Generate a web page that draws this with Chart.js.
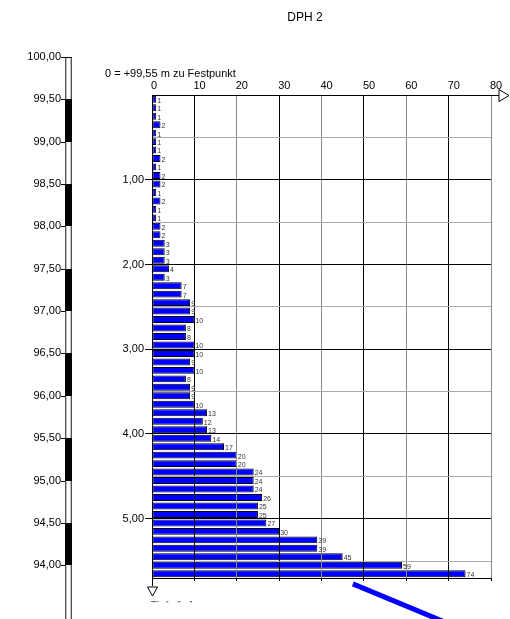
<!DOCTYPE html>
<html>
<head>
<meta charset="utf-8">
<script src="https://cdn.jsdelivr.net/npm/chart.js@4/dist/chart.umd.min.js"></script>
<style>
html, body { margin: 0; padding: 0; background: #fff; }
canvas { display: block; }
</style>
</head>
<body>
<canvas id="c" width="510" height="619"></canvas>
<script>
// Dynamic probe DPH 2: blows per 10 cm against depth below the reference point
const chartTitle = 'DPH 2';
const referenceNote = '0 = +99,55 m zu Festpunkt';
const depthTitle = 'Tiefe [m]';
const groundLevel = 99.55;

// mid-depth of each 10 cm interval [m]
const depths = [
  0.05, 0.15, 0.25, 0.35, 0.45, 0.55, 0.65, 0.75, 0.85, 0.95,
  1.05, 1.15, 1.25, 1.35, 1.45, 1.55, 1.65, 1.75, 1.85, 1.95,
  2.05, 2.15, 2.25, 2.35, 2.45, 2.55, 2.65, 2.75, 2.85, 2.95,
  3.05, 3.15, 3.25, 3.35, 3.45, 3.55, 3.65, 3.75, 3.85, 3.95,
  4.05, 4.15, 4.25, 4.35, 4.45, 4.55, 4.65, 4.75, 4.85, 4.95,
  5.05, 5.15, 5.25, 5.35, 5.45, 5.55, 5.65
];

// blows N10 per interval
const blows = [
  1, 1, 1, 2, 1, 1, 1, 2, 1, 2,
  2, 1, 2, 1, 1, 2, 2, 3, 3, 3,
  4, 3, 7, 7, 9, 9, 10, 8, 8, 10,
  10, 9, 10, 8, 9, 9, 10, 13, 12, 13,
  14, 17, 20, 20, 24, 24, 24, 26, 25, 25,
  27, 30, 39, 39, 45, 59, 74
];

const blowTicks = [0, 10, 20, 30, 40, 50, 60, 70, 80];
const depthTicks = [0.5, 1, 1.5, 2, 2.5, 3, 3.5, 4, 4.5, 5, 5.5];
const elevationTicks = [100.0, 99.5, 99.0, 98.5, 98.0, 97.5, 97.0, 96.5, 96.0, 95.5, 95.0, 94.5, 94.0];

const FONT = '"Liberation Sans", Arial, sans-serif';
const fmt = v => v.toFixed(2).replace('.', ',');

const decor = {
  id: 'decor',
  afterDraw(chart) {
    const ctx = chart.ctx;
    const xs = chart.scales.x;
    const ys = chart.scales.y;
    const area = chart.chartArea;
    ctx.save();

    // value labels next to each bar
    const meta = chart.getDatasetMeta(0);
    ctx.font = '7px ' + FONT;
    ctx.fillStyle = '#333';
    ctx.textAlign = 'left';
    ctx.textBaseline = 'bottom';
    meta.data.forEach((el, i) => {
      ctx.fillText(String(blows[i]), el.x + 1, el.y + el.height / 2 + 1.5);
    });

    // title and reference note
    ctx.fillStyle = '#000';
    ctx.font = '12px ' + FONT;
    ctx.textAlign = 'center';
    ctx.textBaseline = 'middle';
    ctx.fillText(chartTitle, 305, 18);
    ctx.font = '11px ' + FONT;
    ctx.textAlign = 'left';
    ctx.fillText(referenceNote, 105, 74);

    // elevation column on the left, aligned with the depth scale
    const yOf = elev => ys.getPixelForValue(groundLevel - elev);
    const bx0 = 65, bx1 = 72;
    const topElev = elevationTicks[0];
    const yTop = Math.round(yOf(topElev));
    const yBot = chart.height;
    ctx.fillStyle = '#fff';
    ctx.fillRect(bx0, yTop, bx1 - bx0, yBot - yTop);
    ctx.lineWidth = 1;
    ctx.strokeStyle = '#555';
    ctx.beginPath();
    ctx.moveTo(bx0 + 0.5, yTop); ctx.lineTo(bx0 + 0.5, yBot);
    ctx.moveTo(bx1 - 0.5, yTop); ctx.lineTo(bx1 - 0.5, yBot);
    ctx.stroke();
    ctx.strokeStyle = '#bbb';
    ctx.beginPath();
    ctx.moveTo(bx0 + 1.5, yTop); ctx.lineTo(bx0 + 1.5, yBot);
    ctx.moveTo(bx1 - 1.5, yTop); ctx.lineTo(bx1 - 1.5, yBot);
    ctx.stroke();
    // black half-metre blocks: [n, n+0.5] for whole metres n
    ctx.fillStyle = '#000';
    elevationTicks.forEach(e => {
      if (Math.abs(e - Math.round(e)) < 1e-6 && e + 0.5 <= topElev) {
        const a = Math.round(yOf(e + 0.5)), b = Math.round(yOf(e));
        ctx.fillRect(bx0, a, bx1 - bx0, b - a);
      }
    });
    ctx.strokeStyle = '#000';
    ctx.beginPath();
    elevationTicks.forEach((e, i) => {
      const y = Math.round(yOf(e)) + 0.5;
      ctx.moveTo(61, y);
      ctx.lineTo(i === 0 ? bx1 : bx0, y);
    });
    ctx.stroke();
    ctx.font = '11px ' + FONT;
    ctx.textAlign = 'right';
    ctx.textBaseline = 'middle';
    ctx.fillStyle = '#000';
    elevationTicks.forEach(e => ctx.fillText(fmt(e), 61, yOf(e)));

    // open arrow at the end of the blow axis
    const ay = Math.round(area.top) + 0.5;
    const ax = xs.right;
    ctx.strokeStyle = '#000';
    ctx.lineWidth = 1;
    ctx.beginPath();
    ctx.moveTo(ax, ay); ctx.lineTo(ax + 8, ay);
    ctx.moveTo(ax + 8, ay - 6); ctx.lineTo(ax + 18, ay); ctx.lineTo(ax + 8, ay + 6); ctx.closePath();
    ctx.stroke();

    // depth axis continues below the last interval, ending in an open triangle
    const dx = Math.round(area.left) + 0.5;
    const by = area.bottom;
    ctx.beginPath();
    ctx.moveTo(dx, by); ctx.lineTo(dx, by + 8);
    ctx.moveTo(dx - 5, by + 9); ctx.lineTo(dx + 5, by + 9); ctx.lineTo(dx, by + 18); ctx.closePath();
    ctx.stroke();

    // depth title, cut off by the lower frame
    ctx.save();
    ctx.beginPath();
    ctx.rect(0, by + 22, chart.width, 2.5);
    ctx.clip();
    ctx.fillStyle = '#555';
    ctx.font = '11px ' + FONT;
    ctx.textAlign = 'left';
    ctx.textBaseline = 'top';
    ctx.fillText(depthTitle, dx - 2, by + 22);
    ctx.restore();

    // blue legend stroke
    ctx.strokeStyle = '#0000ff';
    ctx.lineWidth = 5;
    ctx.beginPath();
    ctx.moveTo(xs.getPixelForValue(47.4), ys.getPixelForValue(5.77));
    ctx.lineTo(xs.getPixelForValue(72), ys.getPixelForValue(6.28));
    ctx.stroke();

    ctx.restore();
  }
};

const points = depths.map((d, i) => ({ x: blows[i], y: d }));

new Chart(document.getElementById('c'), {
  type: 'bar',
  data: {
    datasets: [{
      data: points,
      backgroundColor: '#0000ff',
      borderColor: '#000',
      borderWidth: 1,
      borderSkipped: false,
      inflateAmount: 0,
      barPercentage: 0.82,
      categoryPercentage: 1
    }]
  },
  options: {
    indexAxis: 'y',
    responsive: false,
    animation: false,
    events: [],
    layout: { padding: { left: 0, right: 19, top: 0, bottom: 0 } },
    plugins: { legend: { display: false }, tooltip: { enabled: false }, title: { display: false } },
    scales: {
      x: {
        type: 'linear',
        position: 'top',
        min: 0, max: 80,
        offset: false,
        afterBuildTicks: s => { s.ticks = blowTicks.map(v => ({ value: v })); },
        afterFit: s => { s.height = 95; },
        grid: {
          z: 1,
          drawTicks: false,
          offset: false,
          color: c => (c.tick && c.tick.value % 20 === 0) ? '#888' : '#000'
        },
        border: { color: '#000', z: 1 },
        ticks: {
          align: 'start',
          labelOffset: -1,
          padding: 2,
          color: '#000',
          font: { family: FONT, size: 11 }
        }
      },
      x2: {
        type: 'linear',
        position: 'bottom',
        axis: 'x',
        min: 0, max: 80,
        offset: false,
        afterBuildTicks: s => { s.ticks = blowTicks.map(v => ({ value: v })); },
        afterFit: s => { s.height = 41; },
        grid: { drawOnChartArea: false, drawTicks: true, tickLength: 3, color: '#000', z: 1 },
        border: { color: '#000', z: 1 },
        ticks: { display: false }
      },
      y: {
        type: 'linear',
        position: 'left',
        reverse: true,
        min: 0, max: 5.7,
        offset: false,
        afterBuildTicks: s => { s.ticks = depthTicks.map(v => ({ value: v })); },
        afterFit: s => { s.width = 152; },
        grid: {
          z: 1,
          offset: false,
          tickLength: 7,
          color: c => (c.tick && Number.isInteger(c.tick.value)) ? '#000' : '#aaa',
          tickColor: c => (c.tick && Number.isInteger(c.tick.value)) ? '#000' : 'rgba(0,0,0,0)'
        },
        border: { color: '#000', z: 1 },
        ticks: {
          padding: 1,
          color: '#000',
          font: { family: FONT, size: 11 },
          callback: v => Number.isInteger(v) ? fmt(v) : ''
        }
      }
    }
  },
  plugins: [decor]
});
</script>
</body>
</html>
